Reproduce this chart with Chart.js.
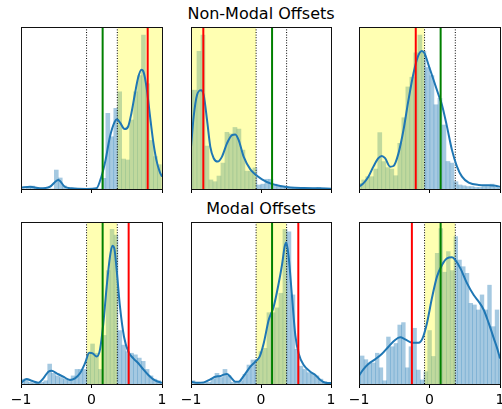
<!DOCTYPE html>
<html>
<head>
<meta charset="utf-8">
<script src="https://cdn.jsdelivr.net/npm/chart.js@4.4.1/dist/chart.umd.min.js"></script>
<style>
  html, body { margin:0; padding:0; background:#fff; }
  body { position:relative; width:502px; height:409px; overflow:hidden; font-family:"DejaVu Sans", sans-serif; }
  .title { position:absolute; transform:translateX(-50%); white-space:nowrap; font-size:16px; line-height:16px; color:#000; }
  canvas { position:absolute; }
</style>
</head>
<body>
<div class="title" id="t1" style="left:261px; top:6px;">Non-Modal Offsets</div>
<div class="title" id="t2" style="left:261px; top:201px;">Modal Offsets</div>
<script>
// ---------------- data ----------------
const xTicks = [-1, 0, 1];
const xTickLabels = ["\u22121", "0", "1"];
const titles = ["Non-Modal Offsets", "Modal Offsets"];

// vertical reference lines
const dottedX = [-0.07, 0.366];
const greenX = 0.158;
const redX = [0.797, -0.824, -0.195, 0.527, 0.533, -0.25];

// shaded spans
const spanLo = [0.366, -1, -1, -0.07, -0.07, -0.07];
const spanHi = [1, -0.07, -0.07, 0.366, 0.366, 0.366];

// histogram bins (left edge of first bin, bin width) and bar heights (% of axis height)
const binLo = [-0.977, -1.029, -1.0185, -1.008, -1.0, -1.034];
const binWidth = [0.0562, 0.0571, 0.0569, 0.0553, 0.0571, 0.0531];

const hist1 = [0, 1.2, 1.8, 0.5, 0, 0, 0, 0, 11.7, 6.8, 2, 0, 0, 0, 0, 0, 0, 0, 0, 0,
               6.6, 46.7, 32.3, 49.8, 60, 18.5, 17.9, 42.6, 60, 70, 95, 65, 30, 20, 15];
const hist2 = [61, 61, 85, 95, 26.5, 5.6, 4.5, 8, 16, 35, 34, 38, 37, 24, 11, 11, 13, 2.5,
               3, 6, 6, 3, 2, 1.5, 1, 1, 0.8, 0.5, 1, 0.5, 0.5, 0.5, 1, 0.5, 0.3, 0.3];
const hist3 = [3.5, 5.6, 7.6, 7.6, 12.3, 34.8, 16.9, 13.2, 12.3, 8.2, 28.2, 44, 63, 69, 84, 95,
               85, 75, 70, 52, 56, 39.5, 17, 16, 4.5, 2.5, 2, 1.5, 1.5, 1, 1, 1.5, 1.5, 3, 1, 0.5];
const hist4 = [3, 2.5, 1, 0.5, 0.5, 1, 2, 12.3, 6.6, 5, 4, 3, 3, 5, 9, 9, 9, 19.3, 24.7, 19,
               9, 30, 70, 95.5, 92, 33, 24, 20, 19, 18, 16, 14, 9, 5, 3, 2];
const hist5 = [2, 1, 0.5, 0.5, 1, 3, 6.6, 4, 9, 5, 1, 0.5, 2, 6, 11.7, 14.8, 15, 20, 22, 44,
               44, 47, 56, 95.5, 94, 55, 21.4, 11, 9, 7, 6.6, 5, 3, 1.5, 1];
const hist6 = [5.5, 17.3, 15, 12.8, 13, 19, 10, 2, 29, 23, 25, 36.4, 37.9, 10, 23, 34.4, 8.6,
               2.5, 7.6, 33, 17, 80.7, 96, 69, 81.7, 70, 91, 76.5, 72.4, 68.3, 49.8, 48.8,
               45.7, 55, 45.7, 61, 35.4, 45.7, 17];

// density curves (x, % of axis height)
const kde1X = [-1, -0.873, -0.73, -0.59, -0.47, -0.38, -0.28, -0.07, 0.07, 0.14, 0.2, 0.26, 0.33,
               0.363, 0.41, 0.47, 0.52, 0.566, 0.613, 0.66, 0.708, 0.74, 0.78, 0.825, 0.873, 0.92, 0.967, 1.0];
const kde1Y = [0.8, 1.4, 0.4, 1.4, 5.6, 1.4, 0.4, 0, 0.4, 7.6, 18, 32, 41.6,
               43, 40.6, 37, 38.6, 46.8, 58, 68.5, 73.6, 72, 63, 46.8, 30, 18, 10.7, 7.6];
const kde2X = [-1, -0.962, -0.914, -0.857, -0.819, -0.771, -0.724, -0.676, -0.619, -0.557, -0.486,
               -0.414, -0.367, -0.319, -0.248, -0.152, -0.071, 0.014, 0.133, 0.276, 0.419, 0.61, 0.8, 1];
const kde2Y = [26, 44.6, 58, 61, 58, 42.6, 26, 19, 16.9, 20, 28.2,
               33.3, 33.7, 30.2, 20, 12.1, 8.6, 6, 3.5, 1.9, 1, 0.6, 0.4, 0.2];
const kde3X = [-1, -0.938, -0.867, -0.796, -0.725, -0.677, -0.63, -0.559, -0.511, -0.44, -0.369, -0.298,
               -0.227, -0.165, -0.108, -0.07, -0.013, 0.058, 0.129, 0.177, 0.248, 0.319, 0.39, 0.461,
               0.556, 0.699, 0.841, 0.936, 1];
const kde3Y = [1.4, 3.5, 7.6, 13.8, 19, 20.4, 19, 13.8, 14.2, 22, 36.4, 55,
               71.4, 81.7, 85.2, 83.7, 76.5, 67.3, 58, 51.9, 38.5, 24, 13.8, 7.6,
               3.9, 2.5, 2.3, 2, 1.4];
const kde4X = [-1, -0.92, -0.849, -0.754, -0.683, -0.612, -0.565, -0.494, -0.4, -0.305, -0.234, -0.163,
               -0.092, -0.031, 0.017, 0.073, 0.121, 0.168, 0.215, 0.262, 0.296, 0.324, 0.357, 0.404,
               0.461, 0.522, 0.593, 0.664, 0.735, 0.806, 0.877, 0.948, 1];
const kde4Y = [0.8, 3.1, 2, 0.8, 3.5, 7.6, 8.2, 6.6, 4.5, 2.5, 3.5, 6.6,
               12.8, 19.3, 18.9, 16.9, 21.4, 37.4, 60, 78.6, 85.4, 83.7, 70.4, 47.7,
               29.2, 20, 15.8, 12.8, 9, 5.6, 2.9, 1.4, 0.8];
const kde5X = [-1, -0.914, -0.819, -0.724, -0.652, -0.581, -0.533, -0.486, -0.438, -0.367, -0.319,
               -0.248, -0.152, -0.081, -0.019, 0.038, 0.11, 0.181, 0.252, 0.3, 0.338, 0.362, 0.395,
               0.443, 0.49, 0.538, 0.61, 0.705, 0.776, 0.848, 0.919, 1];
const kde5Y = [1.4, 0.8, 1, 2.9, 4.5, 4.9, 5.8, 6.2, 4.5, 1.4, 1.4,
               4.9, 10.7, 13.8, 16.9, 25, 39.5, 47.7, 62, 73.5, 84.8, 87.4, 78.6,
               54, 30.2, 18.9, 11.7, 7.6, 5.6, 2.5, 0.8, 0.6];
const kde6X = [-1, -0.938, -0.867, -0.772, -0.677, -0.582, -0.488, -0.416, -0.345, -0.25, -0.155,
               -0.099, -0.037, 0.034, 0.106, 0.177, 0.248, 0.319, 0.367, 0.438, 0.533, 0.627,
               0.699, 0.77, 0.841, 0.912, 0.96, 1];
const kde6Y = [5.1, 9, 12.3, 15.2, 18.5, 23, 27.2, 28.8, 27.6, 25.5, 25.5,
               28.2, 37.4, 52.9, 66.3, 73.5, 77.6, 78.2, 76.5, 71.4, 62.1, 54.9,
               50.8, 45.7, 37.4, 28.2, 22, 15.8];

// ---------------- layout ----------------
const panelLeft = [21, 191, 359, 21, 191, 359];
const panelTop = [27, 27, 27, 222, 222, 222];
const panelW = [141, 140, 141, 141, 140, 141];
const panelH = 162;
const PAD = 16, PT = 6, AX = 28;

document.getElementById('t1').textContent = titles[0];
document.getElementById('t2').textContent = titles[1];

const framePlugin = {
  id: 'frame',
  afterDatasetsDraw(chart) {
    const a = chart.chartArea, ctx = chart.ctx;
    ctx.save();
    ctx.strokeStyle = '#111';
    ctx.lineWidth = 1;
    ctx.strokeRect(a.left + 0.5, a.top + 0.5, a.right - a.left, a.bottom - a.top);
    ctx.restore();
  }
};

function vline(x, color, width, dash, order) {
  return {
    type: 'line',
    data: [{x: x, y: 0}, {x: x, y: 100}],
    borderColor: color, borderWidth: width, borderDash: dash || [],
    pointRadius: 0, fill: false, order: order, borderCapStyle: 'butt'
  };
}

function makePanel(idx, hist, kx, ky, showLabels) {
  const L = panelLeft[idx], T = panelTop[idx], W = panelW[idx], H = panelH;
  const cv = document.createElement('canvas');
  const cw = W + 2 * PAD, ch = H + PT + AX;
  cv.width = cw; cv.height = ch;
  cv.style.left = (L - PAD) + 'px';
  cv.style.top = (T - PT) + 'px';
  cv.style.width = cw + 'px';
  cv.style.height = ch + 'px';
  document.body.appendChild(cv);

  const bars = hist.map((h, k) => ({x: binLo[idx] + (k + 0.5) * binWidth[idx], y: h}));
  const kde = kx.map((x, k) => ({x: x, y: ky[k]}));

  const datasets = [
    {
      type: 'bar', data: bars,
      backgroundColor: 'rgba(31,119,180,0.4)', borderWidth: 0,
      barPercentage: 1, categoryPercentage: 1, order: 50
    },
    {
      type: 'line',
      data: [{x: spanLo[idx], y: 100}, {x: spanHi[idx], y: 100}],
      borderColor: 'rgba(0,0,0,0)', borderWidth: 0, pointRadius: 0,
      fill: 'origin', backgroundColor: 'rgba(255,255,0,0.3)', order: 40
    },
    vline(dottedX[0], '#000', 1, [1, 1.6], 30),
    vline(dottedX[1], '#000', 1, [1, 1.6], 30),
    {
      type: 'line', data: kde, borderColor: '#1f77b4', borderWidth: 2,
      pointRadius: 0, fill: false, cubicInterpolationMode: 'monotone', order: 20
    },
    vline(greenX, '#008000', 2, null, 10),
    vline(redX[idx], '#ff0000', 2, null, 5)
  ];

  new Chart(cv, {
    type: 'bar',
    data: {datasets: datasets},
    options: {
      responsive: false, animation: false, devicePixelRatio: 1,
      layout: {padding: {left: PAD, right: PAD, top: PT, bottom: 0}},
      plugins: {legend: {display: false}, tooltip: {enabled: false}, title: {display: false}},
      scales: {
        x: {
          type: 'linear', min: -1, max: 1, offset: false,
          afterFit: (s) => { s.height = AX; },
          afterBuildTicks: (s) => { s.ticks = xTicks.map(v => ({value: v})); },
          ticks: {
            autoSkip: false, maxRotation: 0, minRotation: 0, padding: 4,
            color: showLabels ? '#000' : 'rgba(0,0,0,0)',
            font: {family: 'DejaVu Sans', size: 14},
            callback: (v) => xTickLabels[xTicks.indexOf(v)]
          },
          grid: {display: true, drawOnChartArea: false, drawTicks: true, tickLength: 4, color: '#000', lineWidth: 1, offset: false},
          border: {display: false}
        },
        y: {type: 'linear', min: 0, max: 100, display: false}
      }
    },
    plugins: [framePlugin]
  });
}

makePanel(0, hist1, kde1X, kde1Y, false);
makePanel(1, hist2, kde2X, kde2Y, false);
makePanel(2, hist3, kde3X, kde3Y, false);
makePanel(3, hist4, kde4X, kde4Y, true);
makePanel(4, hist5, kde5X, kde5Y, true);
makePanel(5, hist6, kde6X, kde6Y, true);
</script>
</body>
</html>
